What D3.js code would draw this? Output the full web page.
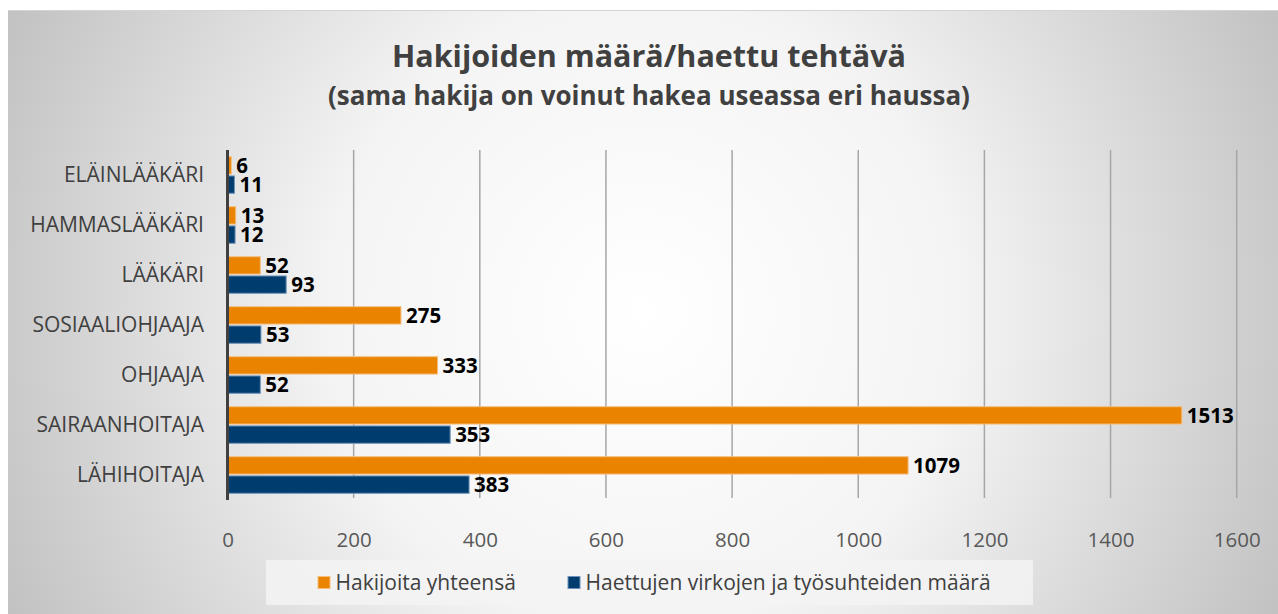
<!DOCTYPE html>
<html>
<head>
<meta charset="utf-8">
<script src="https://cdn.jsdelivr.net/npm/d3@7"></script>
<style>
  body { margin: 0; background: #fff; }
  svg { display: block; font-family: "Open Sans", "Noto Sans", sans-serif; }
</style>
</head>
<body>
<div id="chart"></div>
<script>
var categories = ["ELÄINLÄÄKÄRI", "HAMMASLÄÄKÄRI", "LÄÄKÄRI", "SOSIAALIOHJAAJA", "OHJAAJA", "SAIRAANHOITAJA", "LÄHIHOITAJA"];
var seriesNames = ["Hakijoita yhteensä", "Haettujen virkojen ja työsuhteiden määrä"];
var applicants = [6, 13, 52, 275, 333, 1513, 1079];
var positions = [11, 12, 93, 53, 52, 353, 383];
var xTicks = [0, 200, 400, 600, 800, 1000, 1200, 1400, 1600];

var W = 1278, H = 614;
var colors = ["#e98300", "#003d6e"];
var strokes = ["#f6bd7c", "#6d93b8"];

var svg = d3.select("#chart").append("svg")
    .attr("width", W).attr("height", H);

// background with radial gradient
var grad = svg.append("defs").append("radialGradient")
    .attr("id", "bg").attr("gradientUnits", "userSpaceOnUse")
    .attr("cx", 643).attr("cy", 312).attr("r", 700);
grad.append("stop").attr("offset", "0%").attr("stop-color", "#ffffff");
grad.append("stop").attr("offset", "45%").attr("stop-color", "#f4f4f4");
grad.append("stop").attr("offset", "100%").attr("stop-color", "#c2c2c2");

svg.append("rect").attr("x", 8).attr("y", 10)
    .attr("width", W - 8).attr("height", H - 10)
    .attr("fill", "url(#bg)");
svg.append("line").attr("x1", 8).attr("x2", W).attr("y1", 10.5).attr("y2", 10.5)
    .attr("stroke", "#d4d4d4").attr("stroke-width", 1);

// titles
svg.append("text").attr("x", 649).attr("y", 67)
    .attr("text-anchor", "middle").attr("font-weight", "bold")
    .attr("font-size", 30.5).attr("fill", "#404040")
    .text("Hakijoiden määrä/haettu tehtävä");
svg.append("text").attr("x", 649).attr("y", 105)
    .attr("text-anchor", "middle").attr("font-weight", "bold")
    .attr("font-size", 26).attr("fill", "#404040")
    .text("(sama hakija on voinut hakea useassa eri haussa)");

// scales
var x = d3.scaleLinear().domain([0, 1600]).range([227.5, 1236.7]);
var y = d3.scaleBand().domain(categories).range([150, 500]);
var ys = d3.scaleBand().domain([0, 1]).range([0, y.bandwidth()])
    .paddingInner(0.1).paddingOuter(0.35);

// gridlines
svg.append("g").selectAll("line").data(xTicks.slice(1)).enter().append("line")
    .attr("x1", function(d){ return x(d); }).attr("x2", function(d){ return x(d); })
    .attr("y1", 150).attr("y2", 498)
    .attr("stroke", "#a6a6a6").attr("stroke-width", 1.5);

// x axis labels
var xAxis = svg.append("g").attr("transform", "translate(0,540)")
    .call(d3.axisBottom(x).tickValues(xTicks).tickFormat(d3.format("d"))
        .tickSize(0).tickPadding(0));
xAxis.select(".domain").remove();
xAxis.selectAll("text").attr("font-size", 20.5).attr("fill", "#595959")
    .attr("font-family", "Open Sans").attr("dy", "0.35em");

// category labels
var yAxis = svg.append("g").attr("transform", "translate(204,0)")
    .call(d3.axisLeft(y).tickSize(0).tickPadding(0));
yAxis.select(".domain").remove();
yAxis.selectAll("text").attr("font-size", 21).attr("fill", "#404040")
    .attr("font-family", "Open Sans");

// bars
var series = [applicants, positions];
series.forEach(function(vals, si){
    var g = svg.append("g");
    g.selectAll("rect").data(vals).enter().append("rect")
        .attr("x", x(0))
        .attr("y", function(d, i){ return y(categories[i]) + ys(si); })
        .attr("width", function(d){ return x(d) - x(0); })
        .attr("height", ys.bandwidth())
        .attr("fill", colors[si])
        .attr("stroke", strokes[si]).attr("stroke-width", 1);
    g.selectAll("text").data(vals).enter().append("text")
        .attr("x", function(d){ return x(d) + 5; })
        .attr("y", function(d, i){ return y(categories[i]) + ys(si) + ys.bandwidth() / 2; })
        .attr("dy", "0.36em")
        .attr("font-size", 20.5).attr("font-weight", "bold").attr("fill", "#000")
        .text(function(d){ return d; });
});

// value axis line
svg.append("line").attr("x1", x(0)).attr("x2", x(0)).attr("y1", 150).attr("y2", 500)
    .attr("stroke", "#404040").attr("stroke-width", 3);

// legend
svg.append("rect").attr("x", 266).attr("y", 560).attr("width", 767).attr("height", 45)
    .attr("fill", "#f3f3f3").attr("opacity", 0.85);
var legX = [317.5, 567.5];
var leg = svg.append("g").selectAll("g").data(seriesNames).enter().append("g")
    .attr("transform", function(d, i){ return "translate(" + legX[i] + ",583)"; });
leg.append("rect").attr("x", 0.5).attr("y", -6.5).attr("width", 12).attr("height", 12)
    .attr("fill", function(d, i){ return colors[i]; })
    .attr("stroke", function(d, i){ return strokes[i]; });
leg.append("text").attr("x", 18).attr("dy", "0.35em")
    .attr("font-size", 21).attr("fill", "#404040")
    .text(function(d){ return d; });
</script>
</body>
</html>
